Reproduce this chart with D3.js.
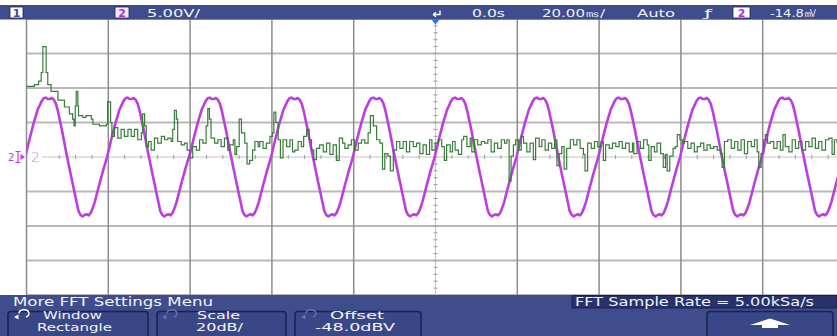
<!DOCTYPE html>
<html>
<head>
<meta charset="utf-8">
<script src="https://cdn.jsdelivr.net/npm/d3@7"></script>
<style>
  html, body { margin: 0; padding: 0; background: #fff; }
  svg { display: block; font-family: "DejaVu Sans", Verdana, sans-serif; }
</style>
</head>
<body>
<div id="scope"></div>
<script>
// screen divisions: 20 ms/div across, 5 V/div (ch2) and 20 dB/div (FFT) up
const timeDivs = [-100, -80, -60, -40, -20, 0, 20, 40, 60, 80, 100];
const voltDivs = [-20, -15, -10, -5, 0, 5, 10, 15, 20];

// channel 2: one mains cycle (ms after rising crossing, volts)
const cycleTime  = [0, 1, 2, 3, 4, 4.5, 5, 5.5, 6, 6.5, 7, 7.5, 8, 9, 10, 11, 12, 13, 13.5, 14, 14.5, 15, 15.5, 16, 16.5, 17, 18, 19, 20];
const cycleVolts = [0, 2.5, 4.8, 6.8, 8.1, 8.5, 8.6, 8.4, 8.4, 8.55, 8.3, 7.7, 6.6, 3.8, 0.7, -2.2, -5.0, -7.8, -8.4, -8.6, -8.4, -8.3, -8.45, -8.1, -7.4, -6.5, -4.2, -2.0, 0];
// rising zero crossings seen on screen (ms)
const cycleStarts = [-100.3, -80.3, -60.2, -40.2, -20.2, -0.2, 19.8, 39.8, 59.8, 79.8];

// FFT trace (Hz, dBV)
const fftFreq = [0, 3, 24, 37, 45, 50, 55, 60, 65, 75, 96, 116, 131, 141, 145, 149, 152, 157, 159, 172,
  182, 198, 203, 213, 223, 232, 244, 248, 254, 257, 261, 269, 279, 289, 299, 310, 320, 330, 340, 351,
  355, 361, 366, 373, 381, 391, 401, 412, 422, 432, 442, 447, 452, 458, 462, 473, 483, 491, 498, 508,
  519, 529, 539, 549, 554, 559, 564, 575, 585, 595, 605, 615,
  621, 632, 637, 642, 650, 657, 667, 674, 682, 691, 698, 708, 713, 723, 733, 744, 752, 756, 762, 769,
  776, 784, 795, 805, 813, 820, 830, 840, 847, 856, 864, 871, 878, 886, 896, 907, 917, 927, 937, 947,
  956, 966, 973, 983, 993, 1003, 1014, 1024, 1034, 1044, 1051, 1060, 1070, 1080, 1088, 1095, 1105, 1112, 1121, 1131,
  1141, 1151, 1161, 1171, 1182, 1192, 1202, 1212, 1222, 1232,
  1239, 1249, 1259, 1269, 1277, 1284, 1295, 1302, 1310, 1320, 1330, 1336, 1346, 1356, 1361, 1369, 1379, 1390, 1400, 1410,
  1420, 1430, 1440, 1451, 1461, 1468, 1475, 1481, 1488, 1495, 1504, 1512, 1519, 1529, 1539, 1549, 1556, 1567, 1575, 1585,
  1595, 1605, 1614, 1621, 1628, 1636, 1643, 1651, 1662, 1672, 1682, 1692, 1702, 1707, 1715, 1726, 1736, 1746, 1756, 1763,
  1770, 1781, 1791, 1801, 1811, 1821, 1831, 1842,
  1852, 1856, 1866, 1876, 1886, 1897, 1902, 1909, 1919, 1927, 1938, 1946, 1953, 1958, 1966, 1976, 1983, 1989, 1997, 2004,
  2011, 2021, 2031, 2041, 2050, 2060, 2070, 2080, 2090, 2100, 2111, 2121, 2126, 2133, 2143, 2154, 2164, 2174, 2184, 2194,
  2204, 2215, 2225, 2233, 2238, 2245, 2253, 2258, 2265, 2274, 2284, 2294, 2304, 2312, 2319, 2330, 2340, 2350, 2360, 2370,
  2381, 2391, 2401, 2411, 2421, 2431, 2442, 2452, 2462, 2469, 2477];
const fftLevel = [-7, -7, -6, -4, 1, 16, 16, 1, -6, -10, -15, -19, -23, -26, -30, -18.5, -10, -18.5, -24, -25,
  -24, -26, -29, -29, -30, -30, -29, -16, -16, -28, -36, -31, -37, -32, -36, -32, -36, -32, -38, -34,
  -23, -30, -42, -39, -44, -37, -40, -36, -38, -37, -39, -32, -21, -26, -39, -41, -40, -44, -48.5, -42,
  -44, -38, -40, -30, -20, -26, -37, -40, -38, -42, -37, -44,
  -41, -38, -46.5, -42, -26, -34, -40, -52, -50, -44, -39, -42, -39, -43, -40, -36, -34, -22, -28, -38,
  -48.5, -38, -42, -38, -45, -44, -39, -42, -36, -32, -38, -44, -49.5, -43, -41, -45, -40, -46.5, -41, -50,
  -37, -40, -43, -41, -38, -44, -40, -38, -40, -34, -24, -30, -38, -40, -55, -46, -47.5, -56, -44, -39,
  -43, -39, -45, -39, -42, -40, -46, -41, -46.5, -38,
  -44, -40, -38, -42, -50, -41, -45, -39, -44, -46.5, -38, -36, -42, -37, -45, -38, -41, -39, -40, -38,
  -45, -40, -43, -38, -40, -38, -62, -47.5, -41, -38, -44, -36, -40, -45, -40, -49.5, -37, -42, -38, -44,
  -40, -43, -38, -53, -46, -42, -55, -43, -38, -41, -38, -43, -46.5, -56, -40, -43, -39, -42, -39, -50,
  -41, -43, -40, -42, -39, -43, -40, -45,
  -40, -46, -39, -43, -38, -41, -50, -42, -45, -40, -46, -54, -46.5, -56, -47.5, -43, -42, -35, -38, -40,
  -39, -43, -40, -45, -42, -40, -44, -41, -43, -42, -44, -46, -54, -39, -38, -43, -39, -44, -38, -46,
  -39, -42, -38, -45, -54, -46, -38, -35, -40, -39, -43, -39, -44, -35, -42, -45, -38, -43, -39, -44,
  -39, -42, -37, -43, -39, -44, -38, -37, -46.5, -38, -40];

const softkeyLabels = [['Window', 'Rectangle'], ['Scale', '20dB/'], ['Offset', '-48.0dBV']];

const W = 837, H = 336;
const barBlue = '#3f4d8d';
const ch2Color = '#bd3ddf';
const fftColor = '#3a7c3a';

const svg = d3.select('#scope').append('svg')
  .attr('width', W)
  .attr('height', H);

const xTime = d3.scaleLinear().domain([-100, 100]).range([26.5, 844.5]);
const yVolt = d3.scaleLinear().domain([-20, 20]).range([295, 19]);
const xFreq = d3.scaleLinear().domain([0, 2500]).range([26.5, 844.5]);
const yDb = d3.scaleLinear().domain([-128, 32]).range([295, 19]);

svg.append('rect').attr('width', W).attr('height', H).attr('fill', '#fff');

// graticule
const grid = svg.append('g');
grid.selectAll('.hline')
  .data(voltDivs.filter(v => v !== 0))
  .join('line')
  .attr('x1', xTime(-100)).attr('x2', W)
  .attr('y1', d => yVolt(d)).attr('y2', d => yVolt(d))
  .attr('stroke', '#b9b9b9').attr('stroke-width', 1.8);

grid.selectAll('.vline')
  .data(timeDivs.filter(t => t !== 0))
  .join('line')
  .attr('x1', d => xTime(d)).attr('x2', d => xTime(d))
  .attr('y1', yVolt(20)).attr('y2', yVolt(-20))
  .attr('stroke', '#8d8d8d').attr('stroke-width', 1.5);

// centre axes with minor ticks
grid.append('line')
  .attr('x1', 42).attr('x2', W)
  .attr('y1', yVolt(0)).attr('y2', yVolt(0))
  .attr('stroke', '#c4c4c4').attr('stroke-width', 1);
grid.selectAll('.htick')
  .data(d3.range(-96, 100, 4).filter(t => xTime(t) > 44))
  .join('line')
  .attr('x1', d => xTime(d)).attr('x2', d => xTime(d))
  .attr('y1', yVolt(0) - 2).attr('y2', yVolt(0) + 2)
  .attr('stroke', '#9a9a9a').attr('stroke-width', 1);

grid.append('line')
  .attr('x1', xTime(0)).attr('x2', xTime(0))
  .attr('y1', yVolt(20)).attr('y2', yVolt(-20))
  .attr('stroke', '#c4c4c4').attr('stroke-width', 1);
grid.selectAll('.vtick')
  .data(d3.range(-19, 20, 1))
  .join('line')
  .attr('x1', xTime(0) - 2).attr('x2', xTime(0) + 2)
  .attr('y1', d => yVolt(d)).attr('y2', d => yVolt(d))
  .attr('stroke', '#9a9a9a').attr('stroke-width', 1);

// traces
svg.append('clipPath').attr('id', 'screen')
  .append('rect')
  .attr('x', 26.5).attr('y', 19)
  .attr('width', W - 26.5).attr('height', 276);

const ch2Points = cycleStarts.flatMap(t0 => cycleTime.map((t, i) => [t0 + t, cycleVolts[i]]));
const ch2Line = d3.line()
  .x(d => xTime(d[0]))
  .y(d => yVolt(d[1]));

svg.append('path')
  .datum(ch2Points)
  .attr('clip-path', 'url(#screen)')
  .attr('d', ch2Line)
  .attr('fill', 'none')
  .attr('stroke', ch2Color)
  .attr('stroke-width', 2.6)
  .attr('stroke-linejoin', 'round');

const fftLine = d3.line()
  .x((d, i) => xFreq(fftFreq[i]))
  .y(d => yDb(d))
  .curve(d3.curveStepAfter);

svg.append('path')
  .datum(fftLevel)
  .attr('clip-path', 'url(#screen)')
  .attr('d', fftLine)
  .attr('fill', 'none')
  .attr('stroke', fftColor)
  .attr('stroke-width', 1.2);

// ch2 ground marker
const marker = svg.append('g').attr('fill', ch2Color);
marker.append('text').attr('x', 8).attr('y', 160.5).attr('font-size', 10).text('2');
marker.append('path')
  .attr('d', 'M15.5,151.5 h5 M18,151.5 v11 M15.5,162.5 h5')
  .attr('stroke', ch2Color).attr('stroke-width', 1.2).attr('fill', 'none');
marker.append('path').attr('d', 'M20.5,154 L25,157 L20.5,160 Z');
svg.append('text')
  .attr('x', 31).attr('y', 161.5)
  .attr('font-size', 14).attr('font-weight', 200)
  .attr('fill', '#d07ee4')
  .text('2');

// status bar
svg.append('rect').attr('x', 0).attr('y', 5).attr('width', W).attr('height', 14.5).attr('fill', barBlue);

function chip(x, w, label, fill, color) {
  svg.append('rect').attr('x', x).attr('y', 7).attr('width', w).attr('height', 11)
    .attr('fill', fill).attr('stroke', '#1d2450').attr('stroke-width', 0.8);
  svg.append('text').attr('x', x + w / 2).attr('y', 16.5)
    .attr('text-anchor', 'middle').attr('font-size', 11).attr('font-weight', 'bold')
    .attr('fill', color).text(label);
}
chip(10, 13, '1', '#ffffff', barBlue);
chip(115, 14, '2', '#f6e8fa', '#b02ed0');
chip(733, 17, '2', '#ffffff', '#b02ed0');

function barText(x, y, len, str, size) {
  return svg.append('text')
    .attr('x', x).attr('y', y)
    .attr('font-size', size || 11)
    .attr('fill', '#f2f3f8')
    .attr('textLength', len).attr('lengthAdjust', 'spacingAndGlyphs')
    .text(str);
}
barText(147, 16.8, 53, '5.00V/');
barText(472, 16.8, 33, '0.0s');
barText(542, 16.8, 63, '20.00㎳/');
barText(637, 16.8, 38, 'Auto');
barText(704, 16.8, 8, 'ƒ');
barText(770, 16.8, 47, '-14.8㎷');

// trigger position marker
svg.append('path')
  .attr('d', 'M440,10.5 v4 h-7 M433,14.5 l3,-2.2 M433,14.5 l3,2.2')
  .attr('stroke', '#fff').attr('stroke-width', 1.4).attr('fill', 'none');
svg.append('path')
  .attr('d', `M${xTime(0) - 4},19.5 h8 l-4,5 Z`)
  .attr('fill', '#2d6ee6');

// softkey menu
svg.append('rect').attr('x', 0).attr('y', 295).attr('width', W).attr('height', 41).attr('fill', barBlue);
barText(13, 306, 200, 'More FFT Settings Menu', 11.5);

svg.append('rect').attr('x', 572).attr('y', 295.5).attr('width', 265).attr('height', 12.5)
  .attr('fill', '#27316a').attr('stroke', '#1b2250').attr('stroke-width', 1);
barText(575, 306, 239, 'FFT Sample Rate = 5.00kSa/s', 11.5);

const keyX = [8, 157, 295, 707];
const keyW = [140, 129, 126, 126];
keyX.forEach((x, i) => {
  svg.append('rect')
    .attr('x', x).attr('y', 311.5).attr('width', keyW[i]).attr('height', 28).attr('rx', 3)
    .attr('fill', '#3a4787').attr('stroke', '#1b2250').attr('stroke-width', 1.6);
});

const labelPos = [[43, 59, 37, 75], [197, 43, 196, 47], [330, 54, 315, 80]];
softkeyLabels.forEach((lines, i) => {
  const p = labelPos[i];
  barText(p[0], 319, p[1], lines[0], 10.2);
  barText(p[2], 331.4, p[3], lines[1], 10.2);
});

// entry knob icons
const knob = (x, color) => {
  svg.append('path')
    .attr('d', `M${x + 12},317 A5,3.8 0 1 0 ${x + 5},313.5`)
    .attr('fill', 'none').attr('stroke', color).attr('stroke-width', 1.4);
  svg.append('path')
    .attr('d', `M${x},317 l4.5,-2.6 v5.2 Z`)
    .attr('fill', color);
};
knob(14, '#ffffff');
knob(162, '#6472ae');
knob(301, '#6472ae');

// up arrow key
svg.append('path')
  .attr('d', 'M770,318.5 L790,325 L778,325 L778,328 L762,328 L762,325 L750,325 Z')
  .attr('fill', '#ffffff');
</script>
</body>
</html>
